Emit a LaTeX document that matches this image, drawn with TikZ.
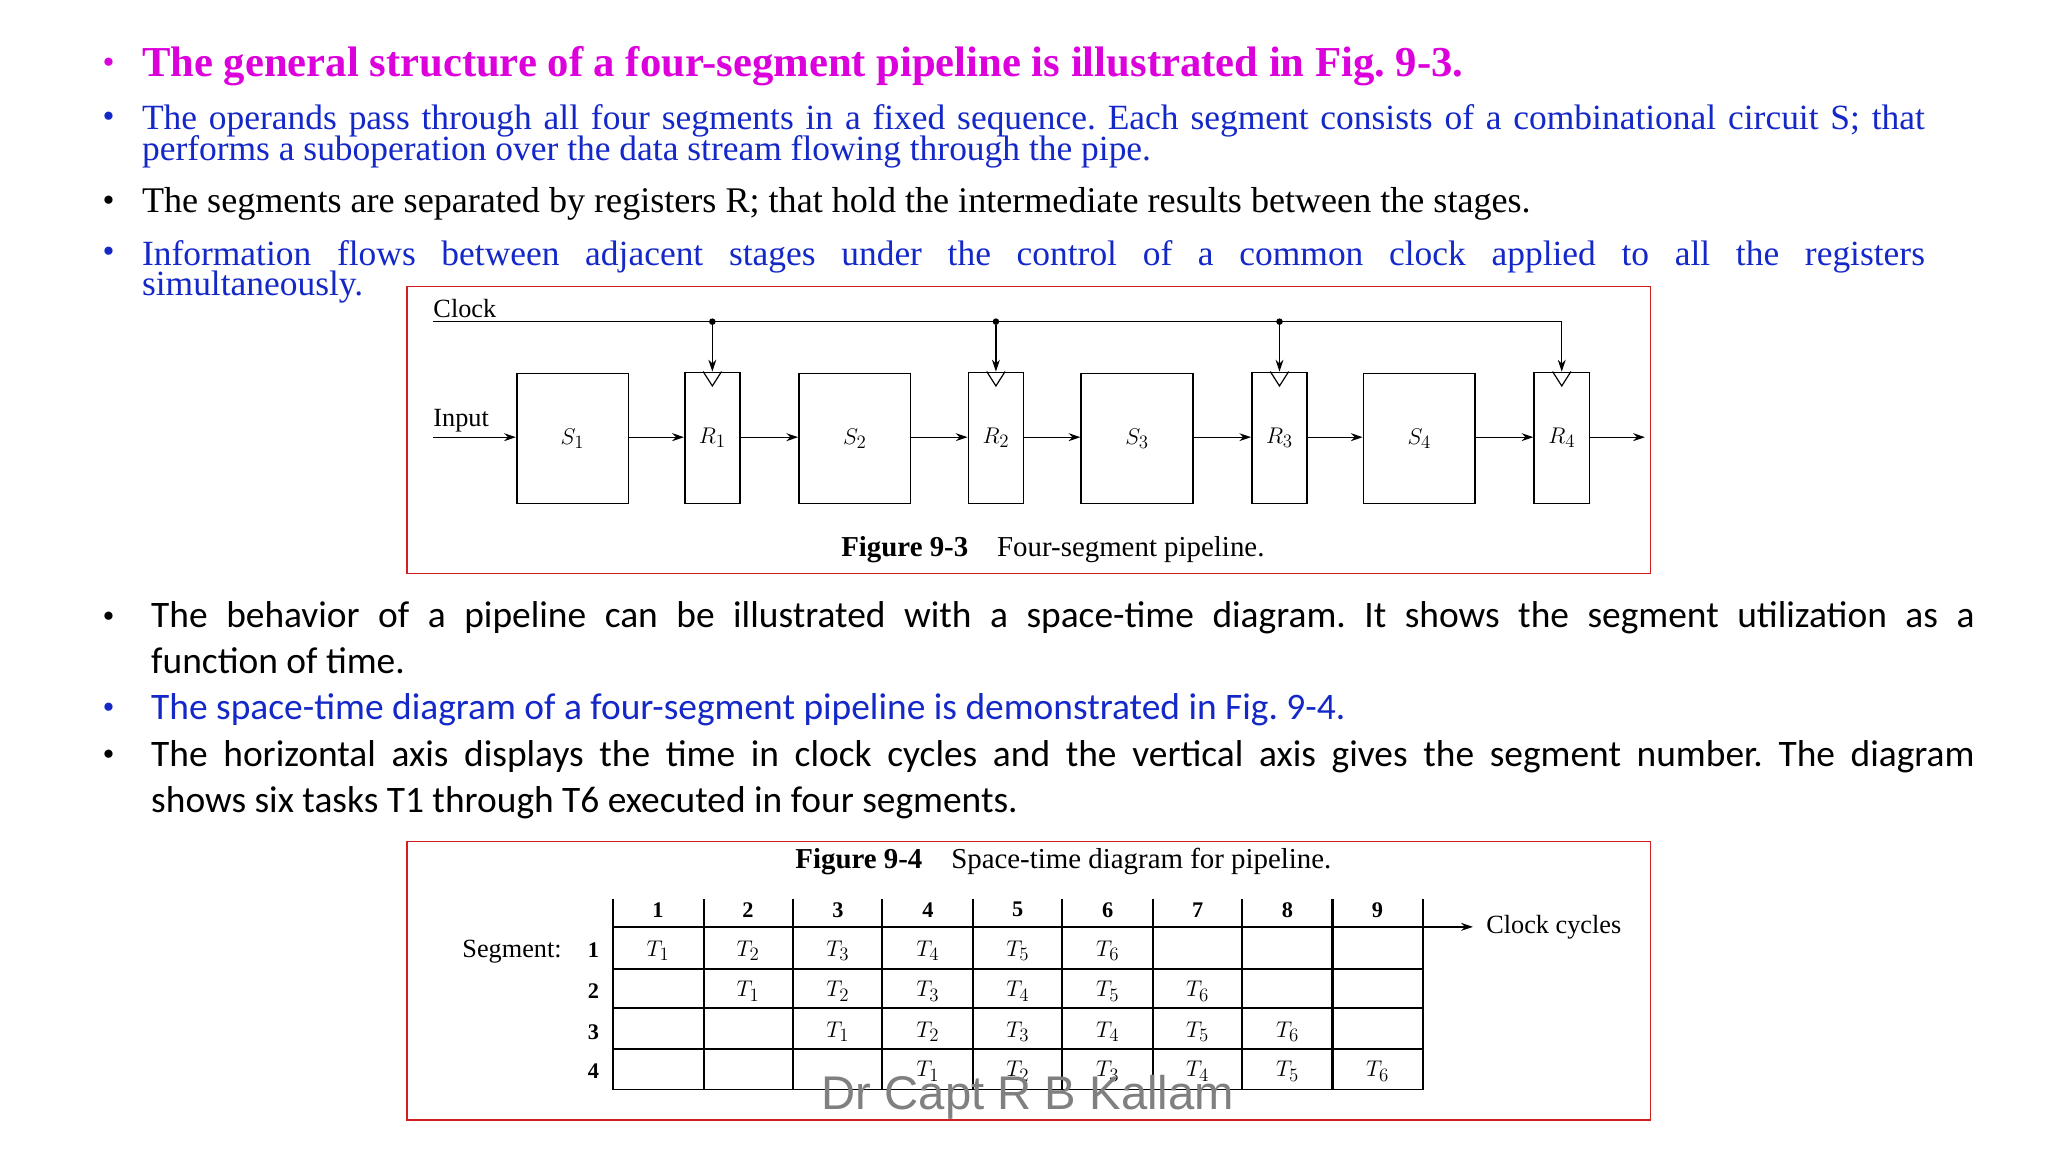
\documentclass[tikz,border=0pt]{standalone}
\usepackage{fontspec}
\setmainfont{Liberation Serif}
\newfontfamily\carfont{Carlito}
\newfontfamily\sfw{Liberation Sans}
\usetikzlibrary{arrows.meta}
\definecolor{mag}{RGB}{220,0,220}
\definecolor{bl}{RGB}{20,40,200}
\definecolor{fr}{RGB}{210,30,30}
\frenchspacing
\begin{document}
\begin{tikzpicture}[x=1pt,y=-1pt,
  ln/.style={anchor=base west,inner sep=0},
  bx/.style={draw,line width=1.2pt},
  ar/.style={-{Stealth[length=9pt,width=6pt]},line width=1pt},
  fig/.style={font=\fontsize{20}{20}\selectfont},
  dot/.style={circle,fill,inner sep=0,minimum size=5pt}]
\useasboundingbox (0,0) rectangle (1560,877.5);
% bullets
\foreach \y/\c in {56/mag,97/bl,161/black,200/bl}{\node[ln,text=\c,font=\fontsize{26}{26}\selectfont] at (78,\y) {\textbullet};}
\foreach \y/\c in {478/black,547/bl,583/black}{\node[ln,text=\c,font=\fontsize{26}{26}\selectfont] at (78,\y) {\textbullet};}
\node[ln,text=mag,font=\bfseries\fontsize{32.5}{32}\selectfont] (t1) at (108,58) {The general structure of a four-segment pipeline is illustrated in Fig. 9-3.};
\node[ln,text=bl,font=\fontsize{27}{26}\selectfont] (t2) at (108,99) {\makebox[1358pt][s]{The operands pass through all four segments in a fixed sequence. Each segment consists of a combinational circuit S; that}};
\node[ln,text=bl,font=\fontsize{27}{26}\selectfont] (t3) at (108,122) {performs a suboperation over the data stream flowing through the pipe.};
\node[ln,text=black,font=\fontsize{27.5}{26}\selectfont] (t4) at (108,162) {The segments are separated by registers R; that hold the intermediate results between the stages.};
\node[ln,text=bl,font=\fontsize{27}{26}\selectfont] (t5) at (108,202) {\makebox[1358pt][s]{Information flows between adjacent stages under the control of a common clock applied to all the registers}};
\node[ln,text=bl,font=\fontsize{27}{26}\selectfont] (t6) at (108,225) {simultaneously.};
\node[ln,font=\carfont\fontsize{28.5}{26}\selectfont] (u1) at (115,478) {\makebox[1389pt][s]{The behavior of a pipeline can be illustrated with a space-time diagram. It shows the segment utilization as a}};
\node[ln,font=\carfont\fontsize{28.5}{26}\selectfont] (u2) at (115,513) {function of time.};
\node[ln,text=bl,font=\carfont\fontsize{28.5}{26}\selectfont] (u3) at (115,548) {The space-time diagram of a four-segment pipeline is demonstrated in Fig. 9-4.};
\node[ln,font=\carfont\fontsize{28.5}{26}\selectfont] (u4) at (115,584) {\makebox[1389pt][s]{The horizontal axis displays the time in clock cycles and the vertical axis gives the segment number. The diagram}};
\node[ln,font=\carfont\fontsize{28.5}{26}\selectfont] (u5) at (115,619) {shows six tasks T1 through T6 executed in four segments.};
% figure 9-3
\draw[fr,line width=1pt] (310,218) rectangle (1257,437);
\node[anchor=base west,inner sep=0,fig] (clk) at (330,242) {Clock};
\node[anchor=base west,inner sep=0,fig] (inp) at (330,325) {Input};
\coordinate (cl0) at (330,245);
\coordinate (ci) at (330,333);
\foreach \n/\x in {1/393,2/608,3/823,4/1038}{
  \node[bx,minimum width=85pt,minimum height=99pt,inner sep=0,anchor=north west,font=\fontsize{19}{19}\selectfont] (S\n) at (\x,284) {$S_\n$};}
\foreach \n/\x in {1/521,2/737,3/953,4/1168}{
  \node[bx,minimum width=42pt,minimum height=100pt,inner sep=0,anchor=north west,font=\fontsize{19}{19}\selectfont] (R\n) at (\x,283) {$R_\n$};
  \draw[line width=0.9pt] ([xshift=-7pt]R\n.north) -- ([yshift=-11pt]R\n.north) -- ([xshift=7pt]R\n.north);}
\foreach \n in {1,2,3}{\node[dot] (d\n) at (R\n.north |- cl0) {}; \draw[ar] (d\n) -- (R\n.north);}
\coordinate (cr) at (R4.north |- cl0);
\draw[line width=1.2pt] (cl0) -- (cr);
\draw[ar] (cr) -- (R4.north);
\draw[ar] (ci) -- (S1.west |- ci);
\foreach \a/\b in {S1/R1,R1/S2,S2/R2,R2/S3,S3/R3,R3/S4,S4/R4}{\draw[ar] (\a.east |- ci) -- (\b.west |- ci);}
\coordinate (co) at (1253,333);
\draw[ar] (R4.east |- ci) -- (co);
\node[inner sep=0,font=\fontsize{22}{22}\selectfont] (cap1) at (802,419) {\textbf{Figure 9-3}\quad Four-segment pipeline.};
% figure 9-4
\draw[fr,line width=1pt] (310,641) rectangle (1257,853);
\node[inner sep=0,font=\fontsize{22}{22}\selectfont] (cap2) at (810,656) {\textbf{Figure 9-4}\quad Space-time diagram for pipeline.};
\foreach \x in {467,536,604,672,741,809,878,946,1015,1084}{\draw[line width=1.6pt] (\x,685) -- (\x,830);}
\foreach \y in {738,768,799,830}{\draw[line width=1.2pt] (467,\y) -- (1084,\y);}
\coordinate (ha) at (467,706);
\coordinate (hb) at (1122,706);
\draw[line width=1.2pt] (ha) -- (1084,706);
\draw[-{Stealth[length=9pt,width=6pt]},line width=1.2pt] (1084,706) -- (hb);
\node[anchor=west,inner sep=0,fig] (cc) at (1132,706) {Clock cycles};
\node[anchor=east,inner sep=0,fig] (sg) at (428,725) {Segment:};
\foreach \i in {1,...,9}{\node[inner sep=0,font=\bfseries\fontsize{17}{17}\selectfont] (h\i) at ({467+68.5*(\i-0.5)},693) {\i};}
\foreach \r/\y in {1/724,2/755,3/786,4/816}{
  \node[inner sep=0,font=\bfseries\fontsize{17}{17}\selectfont] (rn\r) at (452,\y) {\r};
  \foreach \t in {1,...,6}{
    \pgfmathtruncatemacro\col{\t+\r-1}
    \node[inner sep=0,font=\fontsize{19}{19}\selectfont] (c\r\t) at ({467+68.5*(\col-0.5)},\y) {$T_\t$};}}
\node[text=gray,font=\sfw\fontsize{36}{36}\selectfont,inner sep=0] (wm) at (783,836) {Dr Capt R B Kallam};
\end{tikzpicture}
\end{document}
